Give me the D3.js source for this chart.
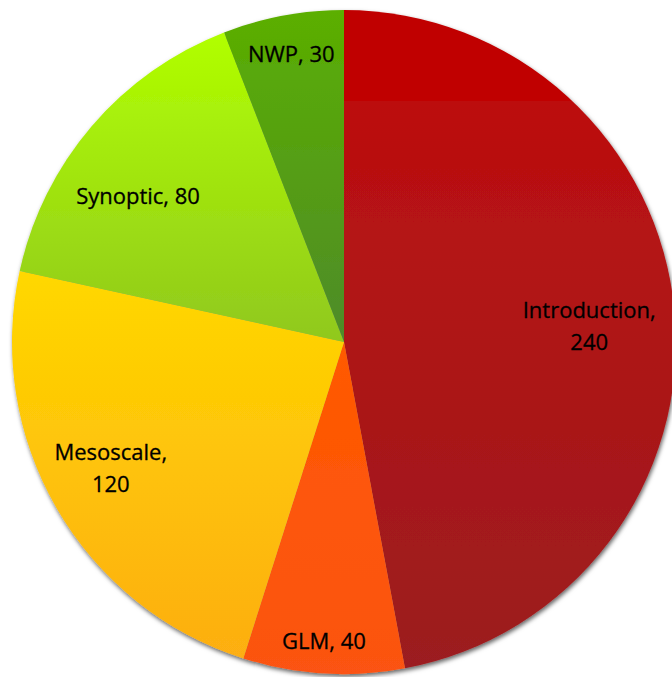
<!DOCTYPE html>
<html>
<head>
<meta charset="utf-8">
<script src="https://cdn.jsdelivr.net/npm/d3@7"></script>
<style>
  html, body { margin: 0; padding: 0; background: #ffffff; overflow: hidden; }
  svg { display: block; }
</style>
</head>
<body>
<svg id="chart" width="672" height="677"></svg>
<script>
// Course hours by topic
const topics = ["Introduction", "GLM", "Mesoscale", "Synoptic", "NWP"];
const hours = [240, 40, 120, 80, 30];

// Fill gradients per slice (top colour -> bottom colour)
const topColors = ["#C00000", "#FF5A00", "#FFD800", "#B1FF00", "#5BAF00"];
const bottomColors = ["#9B1D20", "#FB5312", "#FDAE12", "#90C81E", "#4E8B2A"];

// Label placement: fraction of radius and small angular nudge (degrees)
const labelRadius = [0.74, 0.905, 0.80, 0.76, 0.88];
const labelTurn = [1.8, 0.3, 1.4, -5.3, 0.2];
// Line breaks used by the two-line labels
const twoLine = [true, false, true, false, false];

const width = 672, height = 677;
const cx = 344, cy = 342, radius = 332;

const svg = d3.select("#chart");
const defs = svg.append("defs");

// soft drop shadow under the pie
const shadow = defs.append("filter")
  .attr("id", "pieShadow")
  .attr("x", "-10%").attr("y", "-10%")
  .attr("width", "120%").attr("height", "120%");
shadow.append("feDropShadow")
  .attr("dx", 1).attr("dy", 2.5)
  .attr("stdDeviation", 2)
  .attr("flood-color", "#000")
  .attr("flood-opacity", 0.6);

topics.forEach((t, i) => {
  const g = defs.append("linearGradient")
    .attr("id", "grad" + i)
    .attr("x1", 0).attr("y1", 0).attr("x2", 0).attr("y2", 1);
  if (i === 0) {
    // the large slice has a flat band at the top before its gradient starts
    g.append("stop").attr("offset", 0).attr("stop-color", topColors[i]);
    g.append("stop").attr("offset", 0.138).attr("stop-color", topColors[i]);
    g.append("stop").attr("offset", 0.139).attr("stop-color", "#BC0F0F");
    g.append("stop").attr("offset", 1).attr("stop-color", bottomColors[i]);
  } else {
    g.append("stop").attr("offset", 0).attr("stop-color", topColors[i]);
    g.append("stop").attr("offset", 1).attr("stop-color", bottomColors[i]);
  }
});

const pie = d3.pie().sort(null).value(d => d)(hours);
const arc = d3.arc().innerRadius(0).outerRadius(radius);

const root = svg.append("g").attr("transform", `translate(${cx},${cy})`);

root.append("g")
  .attr("filter", "url(#pieShadow)")
  .selectAll("path")
  .data(pie)
  .join("path")
  .attr("d", arc)
  .attr("fill", (d, i) => `url(#grad${i})`);

const labels = root.append("g")
  .attr("font-family", "'Open Sans', 'DejaVu Sans', sans-serif")
  .attr("font-size", 22)
  .attr("fill", "#000")
  .attr("stroke", "#000")
  .attr("stroke-width", 0.3)
  .attr("text-anchor", "middle");

pie.forEach((d, i) => {
  const a = (d.startAngle + d.endAngle) / 2 + labelTurn[i] * Math.PI / 180;
  const r = radius * labelRadius[i];
  const x = Math.sin(a) * r;
  const y = -Math.cos(a) * r;
  const t = labels.append("text").attr("x", x).attr("y", y);
  if (twoLine[i]) {
    t.append("tspan").attr("x", x).attr("dy", "-0.42em").text(topics[i] + ",");
    t.append("tspan").attr("x", x).attr("dy", 32).text(hours[i]);
  } else {
    t.append("tspan").attr("x", x).attr("dy", "0.35em").text(topics[i] + ", " + hours[i]);
  }
});
</script>
</body>
</html>
